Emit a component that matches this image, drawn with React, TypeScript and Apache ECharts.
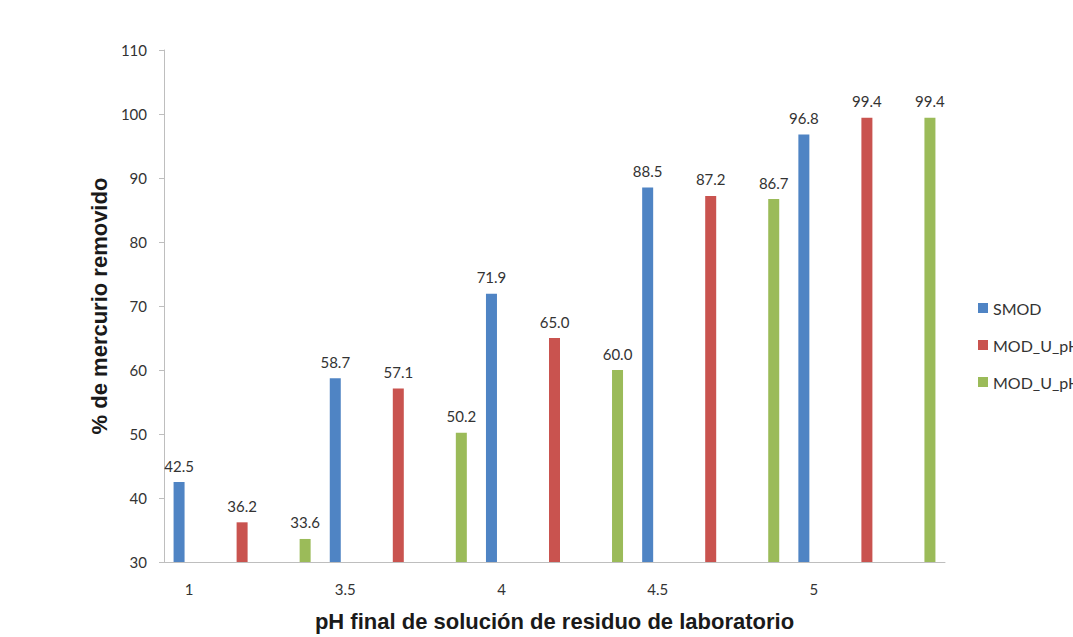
import React, { useEffect, useRef } from "react";
import * as echarts from "echarts";

// pH final values (x categories)
const categories = ["1", "3.5", "4", "4.5", "5"];

// % de mercurio removido, per series
const smodValues = [42.5, 58.7, 71.9, 88.5, 96.8];
const modU1Values = [36.2, 57.1, 65.0, 87.2, 99.4];
const modU2Values = [33.6, 50.2, 60.0, 86.7, 99.4];

const seriesNames = ["SMOD", "MOD_U_pH1", "MOD_U_pH2"];
const seriesColors = ["#4F84C4", "#C9534F", "#9BBB59"];

const yMin = 30;
const yMax = 110;
const yInterval = 10;

export default function App() {
  const ref = useRef<HTMLDivElement>(null);

  useEffect(() => {
    if (!ref.current) return;
    const chart = echarts.init(ref.current, undefined, { renderer: "svg" });

    const labelFont = "Lato, 'Open Sans', sans-serif";
    const valueData = [smodValues, modU1Values, modU2Values];

    chart.setOption({
      animation: false,
      backgroundColor: "#ffffff",
      grid: { left: 164, right: 128, top: 50, bottom: 70, containLabel: false },
      legend: {
        orient: "vertical",
        left: 978,
        top: 300,
        padding: 0,
        itemWidth: 10,
        itemHeight: 10,
        itemGap: 21,
        icon: "rect",
        textStyle: { fontFamily: labelFont, fontSize: 16, color: "#333333" },
        data: seriesNames,
      },
      xAxis: {
        type: "category",
        data: categories,
        boundaryGap: true,
        axisLine: { show: true, lineStyle: { color: "#BEBEBE", width: 1 } },
        axisTick: { show: false },
        axisLabel: {
          margin: 19,
          fontFamily: labelFont,
          fontSize: 15,
          color: "#333333",
          align: "center",
          padding: [0, 106, 0, 0],
        },
        name: "pH final de solución de residuo de laboratorio",
        nameLocation: "middle",
        nameGap: 48,
        nameTextStyle: {
          fontFamily: "'Liberation Sans', Arial, sans-serif",
          fontWeight: "bold",
          fontSize: 22,
          color: "#1a1a1a",
        },
      },
      yAxis: {
        type: "value",
        min: yMin,
        max: yMax,
        interval: yInterval,
        axisLine: { show: true, lineStyle: { color: "#BEBEBE", width: 1 } },
        axisTick: { show: true, inside: false, length: 5, lineStyle: { color: "#BEBEBE" } },
        splitLine: { show: false },
        axisLabel: {
          margin: 17,
          fontFamily: labelFont,
          fontSize: 15,
          color: "#333333",
        },
        name: "% de mercurio removido",
        nameLocation: "middle",
        nameGap: 52,
        nameTextStyle: {
          fontFamily: "'Liberation Sans', Arial, sans-serif",
          fontWeight: "bold",
          fontSize: 22,
          color: "#1a1a1a",
        },
      },
      series: seriesNames.map((name, i) => ({
        name,
        type: "bar",
        data: valueData[i],
        barWidth: 11,
        barGap: "473%",
        itemStyle: { color: seriesColors[i] },
        label: {
          show: true,
          position: "top",
          distance: 9,
          fontFamily: labelFont,
          fontSize: 15,
          color: "#333333",
          formatter: (p: any) => Number(p.value).toFixed(1),
        },
      })),
    });

    return () => {
      chart.dispose();
    };
  }, []);

  return (
    <div
      ref={ref}
      style={{ position: "absolute", left: 0, top: 0, width: 1073, height: 637, overflow: "hidden" }}
    />
  );
}
